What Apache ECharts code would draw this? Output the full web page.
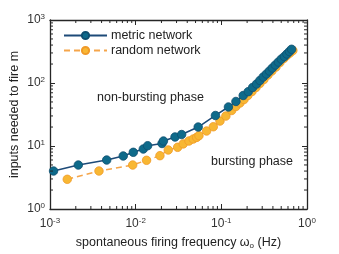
<!DOCTYPE html>
<html><head><meta charset="utf-8">
<script src="https://cdn.jsdelivr.net/npm/echarts@6/dist/echarts.min.js"></script>
<style>html,body{margin:0;padding:0;background:#fff}#c{width:339px;height:254px}</style>
</head><body><div id="c"></div>
<script>
var metricX = [0.0011,0.00214,0.00459,0.00716,0.00938,0.01228,0.0138,0.0203,0.0211,0.0288,0.0344,0.0537,0.0853,0.121,0.148,0.180,0.206,0.232,0.258,0.282,0.308,0.336,0.364,0.394,0.427,0.463,0.502,0.544,0.582,0.623,0.661];
var metricY = [4.01,4.99,5.99,6.94,7.94,8.96,10.1,10.96,12.0,13.9,15.2,20.0,30.5,41.6,50.9,63.3,72.8,84.9,96.4,109.6,124.5,139,155,173,193,215,240,263,289,316,343];
var randomX = [0.00159,0.00373,0.00923,0.0134,0.0192,0.0240,0.0309,0.0359,0.0419,0.0470,0.0515,0.0548,0.0673,0.0806,0.0964,0.113,0.132,0.148,0.165,0.184,0.204,0.228,0.254,0.282,0.314,0.350,0.389,0.434,0.483,0.537,0.582,0.631,0.684];
var randomY = [2.96,4.01,4.99,5.93,7.02,8.64,9.53,10.8,12.0,12.9,13.7,14.6,17.3,20.2,24.9,29.9,36.6,42.4,48.2,54.7,63.4,73.3,84.9,98.2,113.6,134,155,179,211,245,273,299,328];
var xMinorTicks = [0.002,0.003,0.004,0.005,0.006,0.007,0.008,0.009,0.02,0.03,0.04,0.05,0.06,0.07,0.08,0.09,0.2,0.3,0.4,0.5,0.6,0.7,0.8,0.9];
var yMinorTicks = [2,3,4,5,6,7,8,9,20,30,40,50,60,70,80,90,200,300,400,500,600,700,800,900];
var xTickLabels = {'0.001':'-3','0.01':'-2','0.1':'-1','1':'0'};
var yTickLabels = {'1':'0','10':'1','100':'2','1000':'3'};

var FONT = 'Liberation Sans';
var AX = '#262626';
function pairs(xs, ys){ return xs.map(function(x,i){return [x, ys[i]];}); }
function supFmt(map){
  return function(v){
    var key = String(+v.toPrecision(6));
    var e = map[key];
    if (e === undefined) return '';
    return '{b|10}{s|' + e + '}';
  };
}
var richLab = {
  b:{fontFamily:FONT,fontSize:12,color:'#333'},
  s:{fontFamily:FONT,fontSize:8,color:'#333',verticalAlign:'bottom',padding:[0,0,6,0]}
};

var chart = echarts.init(document.getElementById('c'), null, {renderer:'canvas'});
var axisCommon = {
  type:'log', logBase:10,
  axisLine:{show:true,lineStyle:{color:AX,width:1.3}},
  axisTick:{show:true,inside:true,length:5,lineStyle:{color:AX,width:1}},
  splitLine:{show:false}
};
function minorRender(dir){
  return function(params, api){
    var v = api.value(dir === 'x' ? 0 : 1);
    var L = 3, a, b;
    if (dir === 'x') {
      a = api.coord([v, 1]); b = api.coord([v, 1000]);
      return {type:'group',children:[
        {type:'line',shape:{x1:a[0],y1:a[1],x2:a[0],y2:a[1]-L},style:{stroke:AX,lineWidth:1}},
        {type:'line',shape:{x1:b[0],y1:b[1],x2:b[0],y2:b[1]+L},style:{stroke:AX,lineWidth:1}}
      ]};
    } else {
      a = api.coord([0.001, v]); b = api.coord([1, v]);
      return {type:'group',children:[
        {type:'line',shape:{x1:a[0],y1:a[1],x2:a[0]+L,y2:a[1]},style:{stroke:AX,lineWidth:1}},
        {type:'line',shape:{x1:b[0],y1:b[1],x2:b[0]-L,y2:b[1]},style:{stroke:AX,lineWidth:1}}
      ]};
    }
  };
}

chart.setOption({
  animation:false,
  textStyle:{fontFamily:FONT},
  grid:{left:50,right:32,top:20,bottom:45,containLabel:false,outerBoundsMode:'none'},
  legend:{
    orient:'vertical', left:58, top:24, itemWidth:43, itemHeight:9, itemGap:2,
    data:['metric network','random network'],
    textStyle:{fontFamily:FONT,fontSize:12.5,color:'#222',padding:[0,0,0,-1]}
  },
  xAxis:[
    Object.assign({}, axisCommon, {
      min:0.001, max:1, position:'bottom',
      axisLabel:{formatter:supFmt(xTickLabels),margin:8,rich:richLab},
      name:'{t|spontaneous firing frequency ω}{u|o}{t| (Hz)}', nameLocation:'middle', nameGap:26,
      nameMoveOverlap:false,
      nameTextStyle:{rich:{t:{fontFamily:FONT,fontSize:12.5,color:'#222'},u:{fontFamily:FONT,fontSize:8,color:'#222',verticalAlign:'top',padding:[7,0,0,0]}}}
    }),
    Object.assign({}, axisCommon, {min:0.001, max:1, position:'top', axisLabel:{show:false}})
  ],
  yAxis:[
    Object.assign({}, axisCommon, {
      min:1, max:1000, position:'left',
      axisLabel:{formatter:supFmt(yTickLabels),margin:5,rich:richLab},
      name:'inputs needed to fire m', nameLocation:'middle', nameGap:29,
      nameMoveOverlap:false,
      nameTextStyle:{fontFamily:FONT,fontSize:12.5,color:'#222'}
    }),
    Object.assign({}, axisCommon, {min:1, max:1000, position:'right', axisLabel:{show:false}})
  ],
  graphic:[
    {type:'text',left:97,top:91,style:{text:'non-bursting phase',font:'12.5px "Liberation Sans"',fill:'#222'}},
    {type:'text',left:211,top:155,style:{text:'bursting phase',font:'12.5px "Liberation Sans"',fill:'#222'}}
  ],
  series:[
    {type:'custom',xAxisIndex:0,yAxisIndex:0,silent:true,clip:false,z:5,
     data:xMinorTicks.map(function(v){return [v,1];}),renderItem:minorRender('x')},
    {type:'custom',xAxisIndex:0,yAxisIndex:0,silent:true,clip:false,z:5,
     data:yMinorTicks.map(function(v){return [0.001,v];}),renderItem:minorRender('y')},
    {name:'random network',type:'line',data:pairs(randomX,randomY),
     symbol:'circle',symbolSize:8.5,
     lineStyle:{color:'#f5a54a',width:1.5,type:[6,4]},
     itemStyle:{color:'#f8b733',borderColor:'#f09a28',borderWidth:0.8},z:3},
    {name:'metric network',type:'line',data:pairs(metricX,metricY),
     symbol:'circle',symbolSize:8.5,
     lineStyle:{color:'#1d4a78',width:1.5},
     itemStyle:{color:'#0e6a8a',borderColor:'#0f4f70',borderWidth:0.8},z:4}
  ]
});
</script>
</body></html>
